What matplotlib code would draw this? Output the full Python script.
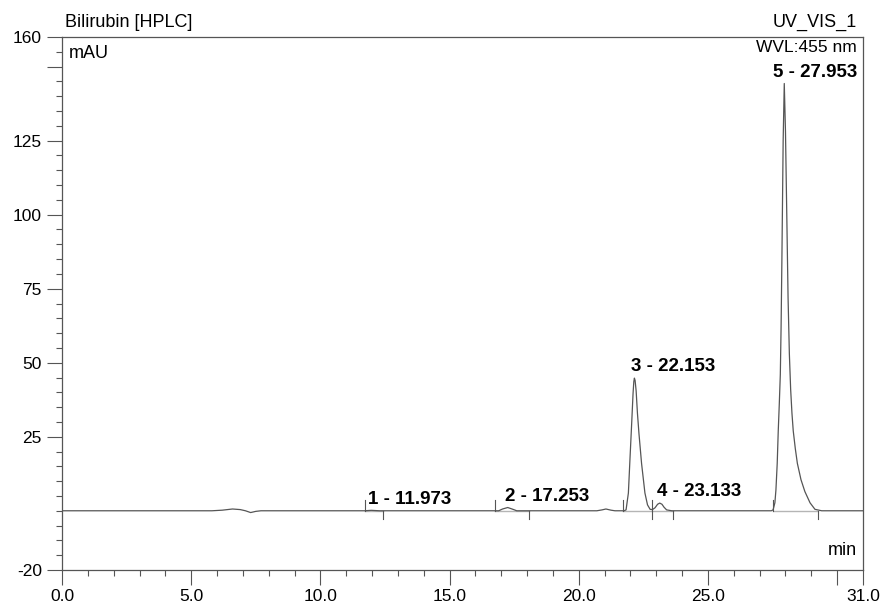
import numpy as np
from matplotlib import pyplot as plt
from matplotlib.ticker import FixedLocator, MultipleLocator

plt.rcParams['font.family'] = ['Liberation Sans', 'DejaVu Sans']

# trace (min, mAU)
time_min = [0.0, 5.8, 6.2, 6.6, 6.9, 7.1, 7.3, 7.5, 7.7,
            11.7, 11.97, 12.3,
            16.9, 17.05, 17.25, 17.45, 17.6,
            20.7, 20.9, 21.05, 21.25, 21.4,
            21.75, 21.83, 21.92, 21.98, 22.05, 22.1, 22.13, 22.153, 22.18, 22.22, 22.27,
            22.33, 22.43, 22.56, 22.66, 22.76, 22.85,
            22.95, 23.05, 23.133, 23.22, 23.3, 23.4, 23.6,
            27.45, 27.52, 27.59, 27.63, 27.68, 27.72, 27.76, 27.8, 27.83, 27.86, 27.91,
            27.953, 28.0, 28.05, 28.1, 28.15, 28.2, 28.25, 28.3, 28.38, 28.46, 28.6,
            28.75, 28.95, 29.14, 29.4, 31.0]
signal_mau = [0.0, 0.0, 0.2, 0.6, 0.4, 0.0, -0.6, -0.2, 0.0,
              0.0, 0.15, 0.0,
              0.0, 0.6, 1.1, 0.5, 0.0,
              0.0, 0.3, 0.6, 0.2, 0.0,
              0.0, 0.3, 6.0, 17.2, 30.0, 39.5, 43.6, 44.8, 44.0, 40.5, 33.0,
              26.0, 16.0, 6.0, 2.0, 0.5, 0.4,
              1.0, 2.2, 2.6, 2.2, 1.2, 0.3, 0.0,
              0.0, 0.3, 2.7, 7.0, 16.0, 27.0, 36.0, 46.0, 62.0, 84.0, 125.0,
              144.3, 128.0, 100.0, 72.0, 53.0, 41.0, 33.0, 27.0, 21.0, 16.0, 10.5,
              6.5, 2.7, 0.5, 0.0, 0.0]

# peak table
peak_no = [1, 2, 3, 4, 5]
peak_rt = [11.973, 17.253, 22.153, 23.133, 27.953]
peak_height = [0.15, 1.1, 44.8, 2.6, 144.3]
peak_start = [11.73, 16.76, 21.71, 22.82, 27.52]
peak_end = [12.42, 18.08, 22.82, 23.63, 29.27]

fig = plt.figure(figsize=(8.82, 6.05), dpi=100)
ax = fig.add_axes([62/882, 1 - 570/605, 801/882, 533/605])

line_col = '#555555'
ax.plot(time_min, signal_mau, color=line_col, lw=0.9)

# integration baselines and delimiters
for s, e in zip(peak_start, peak_end):
    ax.plot([s, e], [0, 0], color='#b5b5b5', lw=1.0, zorder=1)
    ax.plot([s, s], [0, 3.5], color=line_col, lw=0.8)
    ax.plot([e, e], [0, -2.8], color=line_col, lw=0.8)

# peak labels
for n, rt, h in zip(peak_no, peak_rt, peak_height):
    dx = -0.45 if n == 5 else -0.12
    ax.annotate(f'{n} - {rt:.3f}', (rt + dx, h), xytext=(0, 2),
                textcoords='offset points', ha='left', va='bottom',
                fontsize=13.5, fontweight='bold', color='black')

ax.set_xlim(0, 31)
ax.set_ylim(-20, 160)

ax.xaxis.set_major_locator(FixedLocator([0, 5, 10, 15, 20, 25, 30, 31]))
ax.set_xticklabels(['0.0', '5.0', '10.0', '15.0', '20.0', '25.0', '', '31.0'])
ax.xaxis.set_minor_locator(MultipleLocator(1))
ax.yaxis.set_major_locator(FixedLocator([-20, 25, 50, 75, 100, 125, 150, 160]))
ax.set_yticklabels(['-20', '25', '50', '75', '100', '125', '', '160'])
ax.yaxis.set_minor_locator(MultipleLocator(5))
ax.tick_params(which='major', length=11, width=0.8, color='#555555', labelsize=12.5)
ax.tick_params(which='minor', length=4.5, width=0.8, color='#555555')
ax.tick_params(axis='x', pad=3)
for sp in ax.spines.values():
    sp.set_color('#555555')
    sp.set_linewidth(0.9)

ax.text(0.004, 1.012, 'Bilirubin [HPLC]', transform=ax.transAxes,
        ha='left', va='bottom', fontsize=13)
ax.text(0.992, 1.012, 'UV_VIS_1', transform=ax.transAxes,
        ha='right', va='bottom', fontsize=13)
ax.text(0.008, 0.985, 'mAU', transform=ax.transAxes, ha='left', va='top', fontsize=13)
ax.text(0.992, 0.994, 'WVL:455 nm', transform=ax.transAxes, ha='right', va='top', fontsize=12.5)
ax.text(0.993, 0.02, 'min', transform=ax.transAxes, ha='right', va='bottom', fontsize=13)

plt.savefig('out.png', dpi=100)
plt.close()
